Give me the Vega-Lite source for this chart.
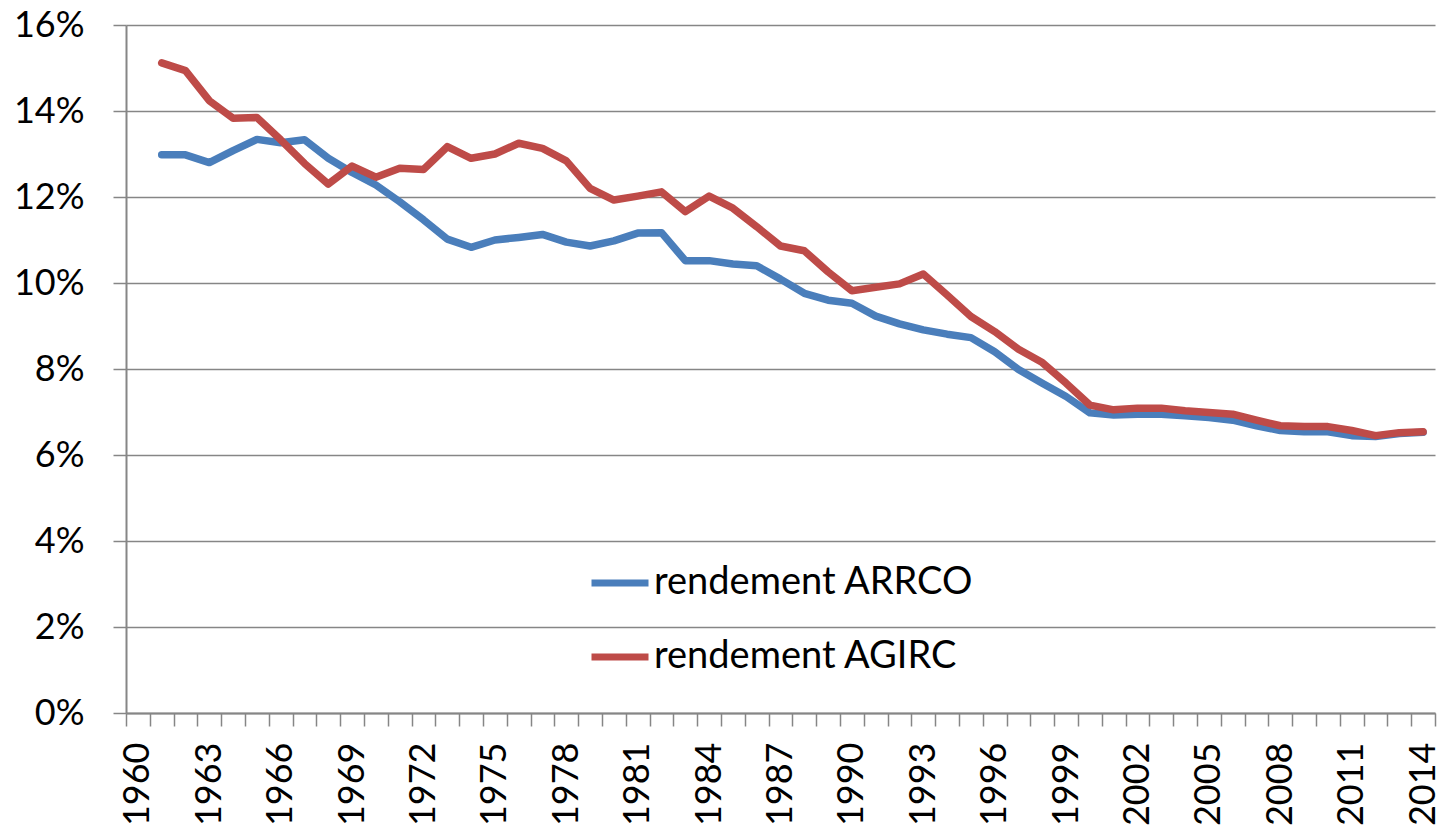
{
  "$schema": "https://vega.github.io/schema/vega-lite/v6.json",
  "width": 1309,
  "height": 688,
  "autosize": {"type": "none"},
  "padding": {"left": 126, "top": 25, "right": 7, "bottom": 114},
  "background": "white",
  "config": {"font": "Lato", "view": {"stroke": null}},
  "data": {
    "values": [
      {"year": 1961, "serie": "rendement ARRCO", "value": 12.98},
      {"year": 1962, "serie": "rendement ARRCO", "value": 12.98},
      {"year": 1963, "serie": "rendement ARRCO", "value": 12.80},
      {"year": 1964, "serie": "rendement ARRCO", "value": 13.08},
      {"year": 1965, "serie": "rendement ARRCO", "value": 13.34},
      {"year": 1966, "serie": "rendement ARRCO", "value": 13.26},
      {"year": 1967, "serie": "rendement ARRCO", "value": 13.33},
      {"year": 1968, "serie": "rendement ARRCO", "value": 12.90},
      {"year": 1969, "serie": "rendement ARRCO", "value": 12.57},
      {"year": 1970, "serie": "rendement ARRCO", "value": 12.28},
      {"year": 1971, "serie": "rendement ARRCO", "value": 11.89},
      {"year": 1972, "serie": "rendement ARRCO", "value": 11.47},
      {"year": 1973, "serie": "rendement ARRCO", "value": 11.02},
      {"year": 1974, "serie": "rendement ARRCO", "value": 10.83},
      {"year": 1975, "serie": "rendement ARRCO", "value": 11.00},
      {"year": 1976, "serie": "rendement ARRCO", "value": 11.06},
      {"year": 1977, "serie": "rendement ARRCO", "value": 11.13},
      {"year": 1978, "serie": "rendement ARRCO", "value": 10.95},
      {"year": 1979, "serie": "rendement ARRCO", "value": 10.86},
      {"year": 1980, "serie": "rendement ARRCO", "value": 10.98},
      {"year": 1981, "serie": "rendement ARRCO", "value": 11.16},
      {"year": 1982, "serie": "rendement ARRCO", "value": 11.17},
      {"year": 1983, "serie": "rendement ARRCO", "value": 10.52},
      {"year": 1984, "serie": "rendement ARRCO", "value": 10.52},
      {"year": 1985, "serie": "rendement ARRCO", "value": 10.44},
      {"year": 1986, "serie": "rendement ARRCO", "value": 10.40},
      {"year": 1987, "serie": "rendement ARRCO", "value": 10.09},
      {"year": 1988, "serie": "rendement ARRCO", "value": 9.76},
      {"year": 1989, "serie": "rendement ARRCO", "value": 9.60},
      {"year": 1990, "serie": "rendement ARRCO", "value": 9.53},
      {"year": 1991, "serie": "rendement ARRCO", "value": 9.23},
      {"year": 1992, "serie": "rendement ARRCO", "value": 9.05},
      {"year": 1993, "serie": "rendement ARRCO", "value": 8.91},
      {"year": 1994, "serie": "rendement ARRCO", "value": 8.81},
      {"year": 1995, "serie": "rendement ARRCO", "value": 8.73},
      {"year": 1996, "serie": "rendement ARRCO", "value": 8.40},
      {"year": 1997, "serie": "rendement ARRCO", "value": 7.99},
      {"year": 1998, "serie": "rendement ARRCO", "value": 7.67},
      {"year": 1999, "serie": "rendement ARRCO", "value": 7.36},
      {"year": 2000, "serie": "rendement ARRCO", "value": 6.98},
      {"year": 2001, "serie": "rendement ARRCO", "value": 6.93},
      {"year": 2002, "serie": "rendement ARRCO", "value": 6.95},
      {"year": 2003, "serie": "rendement ARRCO", "value": 6.95},
      {"year": 2004, "serie": "rendement ARRCO", "value": 6.91},
      {"year": 2005, "serie": "rendement ARRCO", "value": 6.87},
      {"year": 2006, "serie": "rendement ARRCO", "value": 6.81},
      {"year": 2007, "serie": "rendement ARRCO", "value": 6.68},
      {"year": 2008, "serie": "rendement ARRCO", "value": 6.57},
      {"year": 2009, "serie": "rendement ARRCO", "value": 6.54},
      {"year": 2010, "serie": "rendement ARRCO", "value": 6.54},
      {"year": 2011, "serie": "rendement ARRCO", "value": 6.45},
      {"year": 2012, "serie": "rendement ARRCO", "value": 6.43},
      {"year": 2013, "serie": "rendement ARRCO", "value": 6.50},
      {"year": 2014, "serie": "rendement ARRCO", "value": 6.53},
      {"year": 1961, "serie": "rendement AGIRC", "value": 15.12},
      {"year": 1962, "serie": "rendement AGIRC", "value": 14.94},
      {"year": 1963, "serie": "rendement AGIRC", "value": 14.24},
      {"year": 1964, "serie": "rendement AGIRC", "value": 13.83},
      {"year": 1965, "serie": "rendement AGIRC", "value": 13.85},
      {"year": 1966, "serie": "rendement AGIRC", "value": 13.33},
      {"year": 1967, "serie": "rendement AGIRC", "value": 12.78},
      {"year": 1968, "serie": "rendement AGIRC", "value": 12.30},
      {"year": 1969, "serie": "rendement AGIRC", "value": 12.72},
      {"year": 1970, "serie": "rendement AGIRC", "value": 12.46},
      {"year": 1971, "serie": "rendement AGIRC", "value": 12.67},
      {"year": 1972, "serie": "rendement AGIRC", "value": 12.64},
      {"year": 1973, "serie": "rendement AGIRC", "value": 13.17},
      {"year": 1974, "serie": "rendement AGIRC", "value": 12.90},
      {"year": 1975, "serie": "rendement AGIRC", "value": 13.00},
      {"year": 1976, "serie": "rendement AGIRC", "value": 13.25},
      {"year": 1977, "serie": "rendement AGIRC", "value": 13.13},
      {"year": 1978, "serie": "rendement AGIRC", "value": 12.84},
      {"year": 1979, "serie": "rendement AGIRC", "value": 12.20},
      {"year": 1980, "serie": "rendement AGIRC", "value": 11.93},
      {"year": 1981, "serie": "rendement AGIRC", "value": 12.02},
      {"year": 1982, "serie": "rendement AGIRC", "value": 12.12},
      {"year": 1983, "serie": "rendement AGIRC", "value": 11.66},
      {"year": 1984, "serie": "rendement AGIRC", "value": 12.02},
      {"year": 1985, "serie": "rendement AGIRC", "value": 11.74},
      {"year": 1986, "serie": "rendement AGIRC", "value": 11.31},
      {"year": 1987, "serie": "rendement AGIRC", "value": 10.86},
      {"year": 1988, "serie": "rendement AGIRC", "value": 10.75},
      {"year": 1989, "serie": "rendement AGIRC", "value": 10.26},
      {"year": 1990, "serie": "rendement AGIRC", "value": 9.82},
      {"year": 1991, "serie": "rendement AGIRC", "value": 9.90},
      {"year": 1992, "serie": "rendement AGIRC", "value": 9.98},
      {"year": 1993, "serie": "rendement AGIRC", "value": 10.21},
      {"year": 1994, "serie": "rendement AGIRC", "value": 9.72},
      {"year": 1995, "serie": "rendement AGIRC", "value": 9.22},
      {"year": 1996, "serie": "rendement AGIRC", "value": 8.87},
      {"year": 1997, "serie": "rendement AGIRC", "value": 8.46},
      {"year": 1998, "serie": "rendement AGIRC", "value": 8.15},
      {"year": 1999, "serie": "rendement AGIRC", "value": 7.67},
      {"year": 2000, "serie": "rendement AGIRC", "value": 7.16},
      {"year": 2001, "serie": "rendement AGIRC", "value": 7.05},
      {"year": 2002, "serie": "rendement AGIRC", "value": 7.09},
      {"year": 2003, "serie": "rendement AGIRC", "value": 7.09},
      {"year": 2004, "serie": "rendement AGIRC", "value": 7.03},
      {"year": 2005, "serie": "rendement AGIRC", "value": 6.99},
      {"year": 2006, "serie": "rendement AGIRC", "value": 6.95},
      {"year": 2007, "serie": "rendement AGIRC", "value": 6.81},
      {"year": 2008, "serie": "rendement AGIRC", "value": 6.68},
      {"year": 2009, "serie": "rendement AGIRC", "value": 6.66},
      {"year": 2010, "serie": "rendement AGIRC", "value": 6.66},
      {"year": 2011, "serie": "rendement AGIRC", "value": 6.57},
      {"year": 2012, "serie": "rendement AGIRC", "value": 6.45},
      {"year": 2013, "serie": "rendement AGIRC", "value": 6.52},
      {"year": 2014, "serie": "rendement AGIRC", "value": 6.54}
    ]
  },
  "encoding": {
    "x": {
      "field": "year",
      "type": "ordinal",
      "bandPosition": 0.5,
      "scale": {
        "type": "band",
        "paddingInner": 0,
        "paddingOuter": 0,
        "domain": [1960,1961,1962,1963,1964,1965,1966,1967,1968,1969,1970,1971,1972,1973,1974,1975,1976,1977,1978,1979,1980,1981,1982,1983,1984,1985,1986,1987,1988,1989,1990,1991,1992,1993,1994,1995,1996,1997,1998,1999,2000,2001,2002,2003,2004,2005,2006,2007,2008,2009,2010,2011,2012,2013,2014]
      },
      "axis": {
        "title": null,
        "tickBand": "extent",
        "labelExpr": "(datum.value - 1960) % 3 == 0 ? '' + datum.value : ''",
        "labelAngle": 270,
        "labelFontSize": 36,
        "labelFont": "Lato",
        "labelColor": "#000000",
        "labelPadding": 16,
        "labelOverlap": false,
        "labelBound": false,
        "tickColor": "#868686",
        "tickSize": 13,
        "tickWidth": 1.5,
        "domainColor": "#868686",
        "domainWidth": 2,
        "grid": false
      }
    },
    "y": {
      "field": "value",
      "type": "quantitative",
      "scale": {"domain": [0, 16], "nice": false, "zero": true},
      "axis": {
        "title": null,
        "values": [0, 2, 4, 6, 8, 10, 12, 14, 16],
        "labelExpr": "datum.value + '%'",
        "labelFontSize": 36,
        "labelFont": "Lato",
        "labelColor": "#000000",
        "labelPadding": 29,
        "grid": true,
        "gridColor": "#868686",
        "gridWidth": 1.5,
        "tickColor": "#868686",
        "tickSize": 13,
        "tickWidth": 1.5,
        "domainColor": "#868686",
        "domainWidth": 2
      }
    },
    "color": {
      "field": "serie",
      "type": "nominal",
      "scale": {
        "domain": ["rendement ARRCO", "rendement AGIRC"],
        "range": ["#4A7EBB", "#BE4B48"]
      },
      "legend": {
        "title": null,
        "orient": "none",
        "legendX": 462,
        "legendY": 526,
        "padding": 0,
        "symbolType": "stroke",
        "symbolSize": 3249,
        "symbolStrokeWidth": 7,
        "labelFontSize": 38,
        "labelFont": "Lato",
        "labelColor": "#000000",
        "labelOffset": 2,
        "labelLimit": 0,
        "rowPadding": 23
      }
    }
  },
  "layer": [
    {
      "transform": [{"filter": "datum.serie == 'rendement ARRCO'"}],
      "mark": {"type": "line", "strokeWidth": 7.5, "strokeCap": "round", "strokeJoin": "round"}
    },
    {
      "transform": [{"filter": "datum.serie == 'rendement AGIRC'"}],
      "mark": {"type": "line", "strokeWidth": 7.5, "strokeCap": "round", "strokeJoin": "round"}
    }
  ]
}
